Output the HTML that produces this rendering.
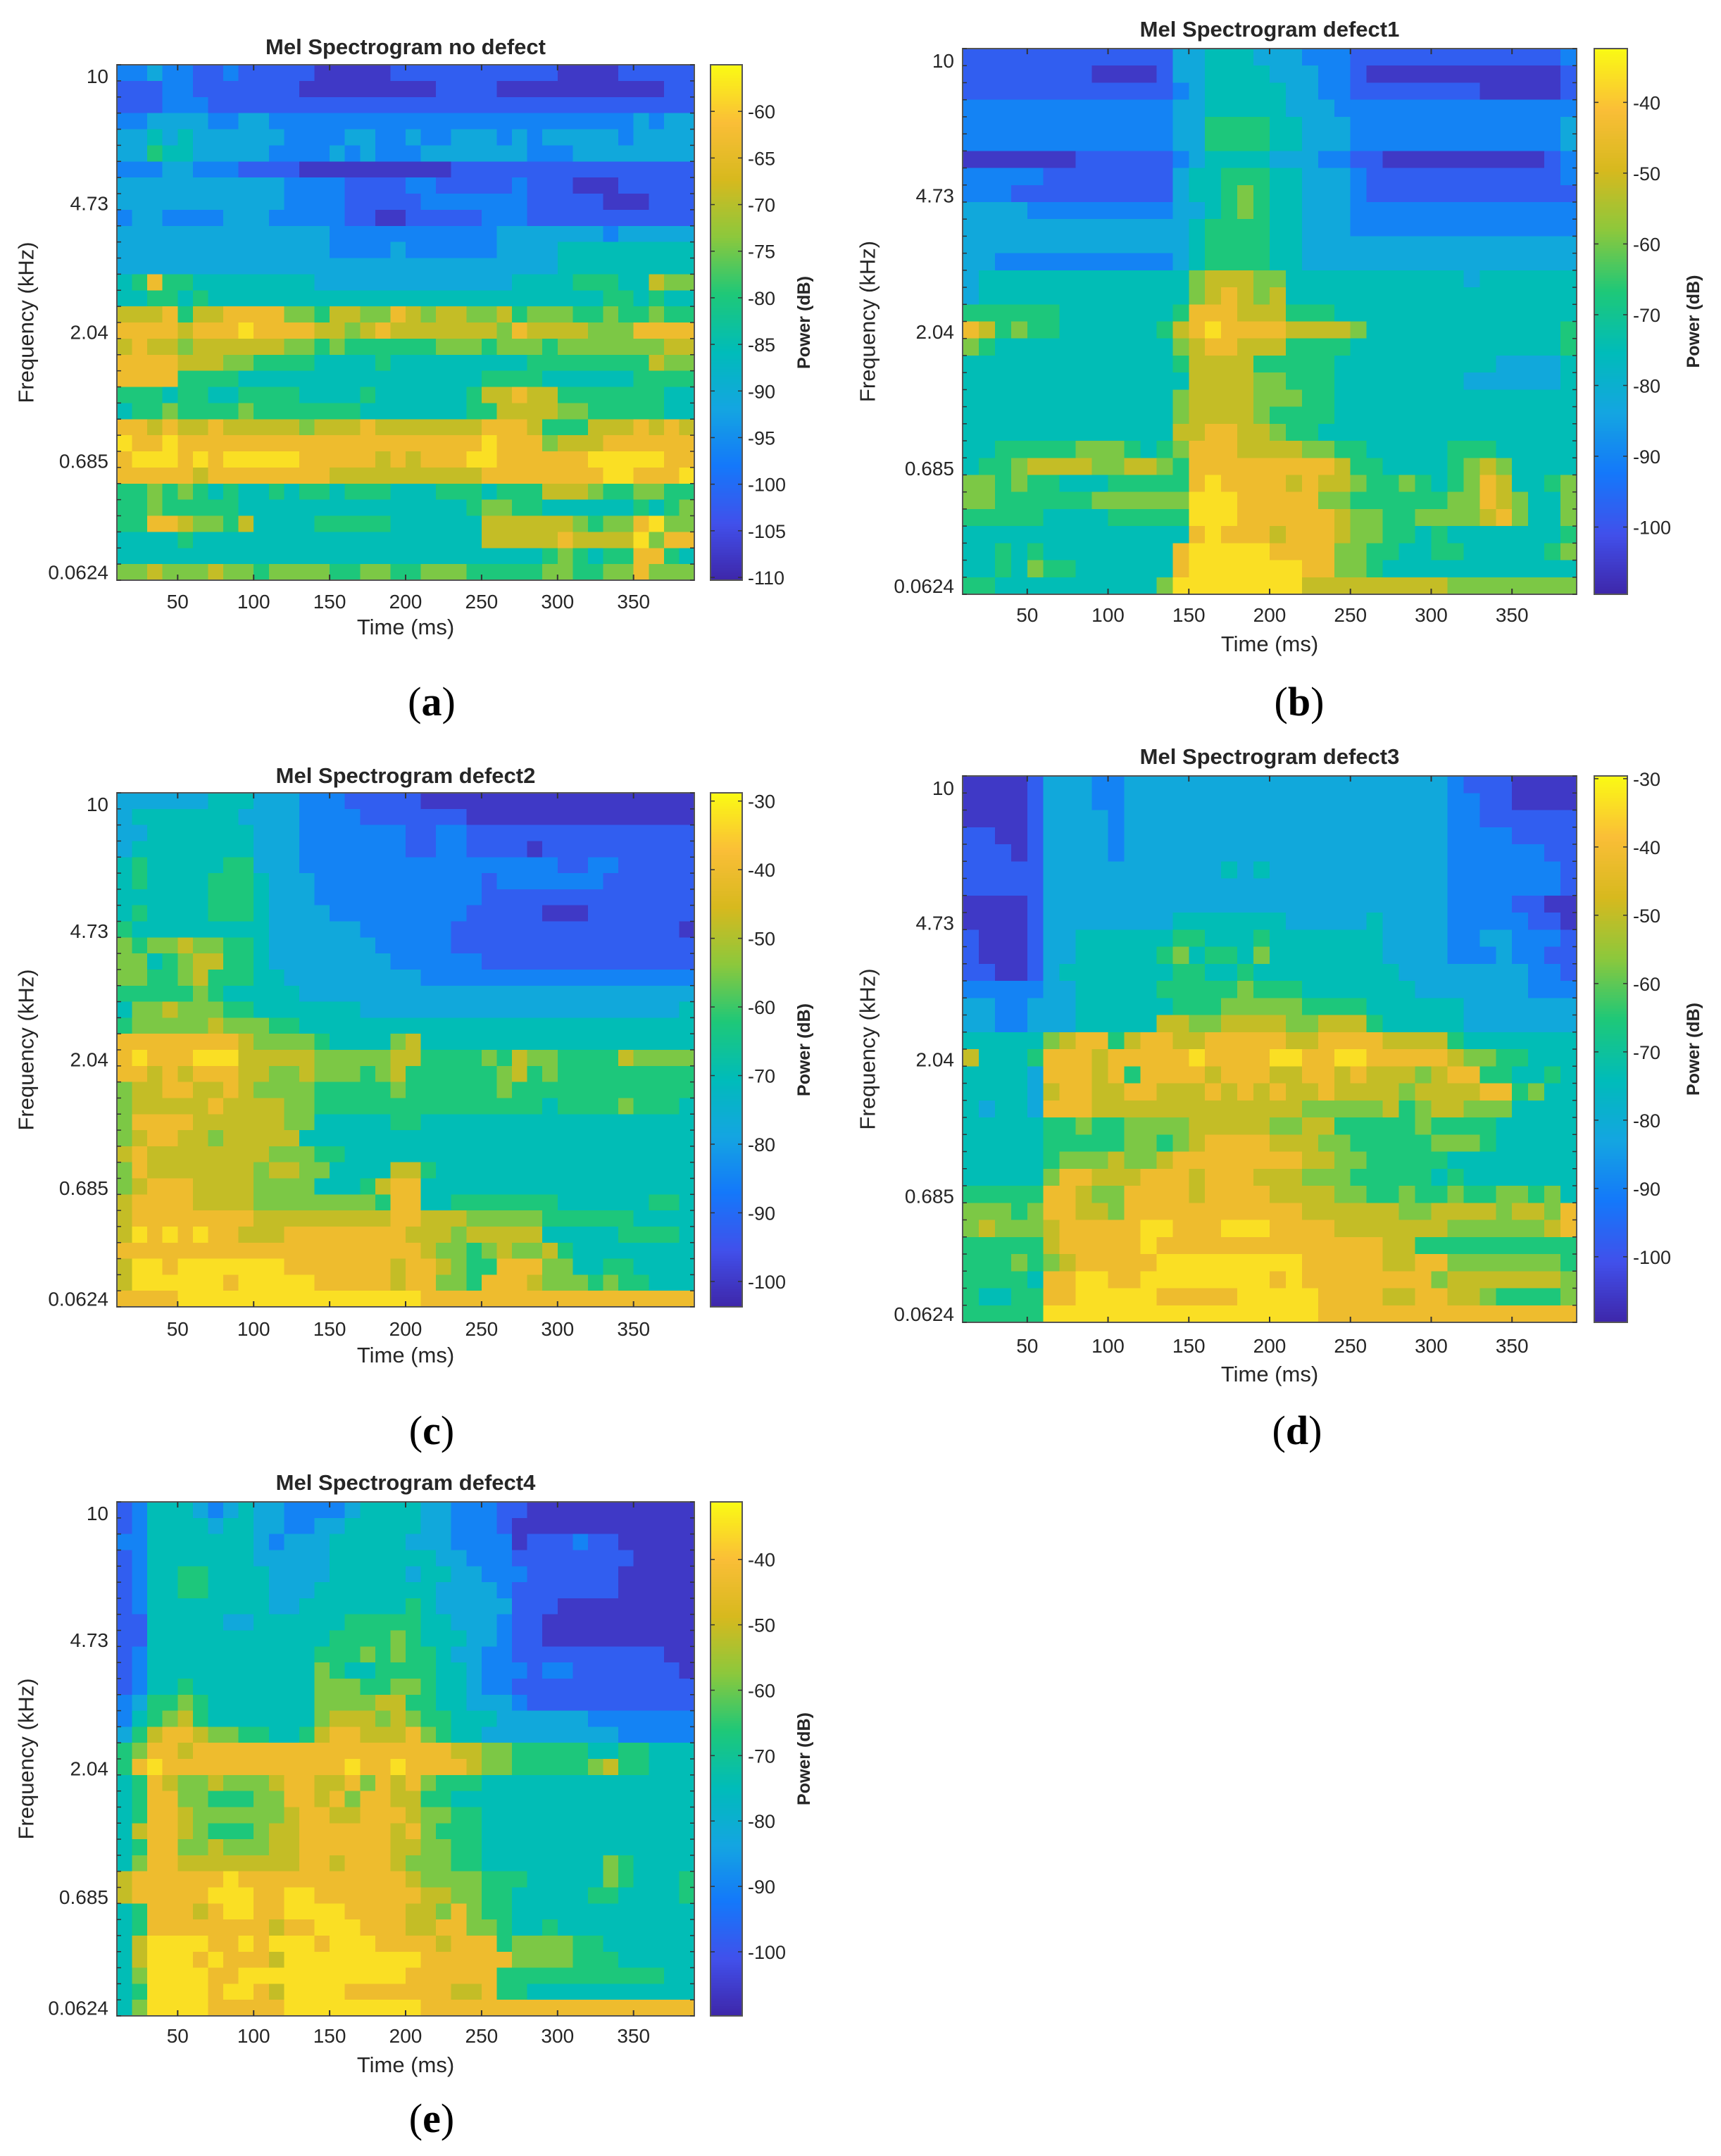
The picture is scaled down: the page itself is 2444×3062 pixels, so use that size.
<!DOCTYPE html>
<html><head><meta charset="utf-8"><style>
html,body{margin:0;padding:0;background:#fff}
svg{display:block}
text{font-family:"Liberation Sans Narrow","Liberation Sans",sans-serif;fill:#262626}
.pl{font-family:"Liberation Serif",serif;fill:#000}
</style></head><body>
<svg id="fig" xmlns="http://www.w3.org/2000/svg" width="2444" height="3062" viewBox="0 0 2444 3062"></svg>
<script>
// ---- shared data ----
const timeTicks = [50,100,150,200,250,300,350];
const freqTickLabels = ["10","4.73","2.04","0.685","0.0624"];
const freqTickRows = [0.7,8.6,16.6,24.6,31.5];
const timeMin = 10, timeMax = 390, nCols = 38, nRows = 32;

// ---- panel (a) no defect: level rows (top = highest frequency), 0..9 ----
const levelsA = [
"2232211211111000001111111111100001111121",
"1112211111110000000001111000000000001111",
"1112221111111111111111111111111111111111",
"2233332233222222222222222222222222323322",
"3343433333322223322322333232333332333333",
"3354433333222232322233333332223333333343",
"2223322211110000000000111111111111111112",
"3333333333322221111221111121110001111112",
"3333333333322221111122222221111100011111",
"2332222333222221100111112221111111111111",
"3333333333333322222222222333333323333322",
"3333333333333322223222222333344444444443",
"3333333333333333333333333333344444444433",
"4585544444444333333333333344445554476654",
"4455454444444444444444444444444455454444",
"7778577888866577668767766756665565565554",
"8888788898888776787777777687777666888887",
"7877677777766565555556665666566666667764",
"8888777665555444454444444445555555576654",
"8888555544444444444444445555444444555554",
"5554554455554444544444457787755555554444",
"4556555565555555444444455777766555554445",
"8878778777776777877777778887555777878756",
"9889888888888888888888889888677788888865",
"8999898999998888878788899888888999998888",
"8888878888888877777777778888888899888998",
"5565654544545545554445554555777655665565",
"5565555544444444444444456655444444545654",
"5588766574444555554444447777776566896664",
"4444544444444444444444447777787777968864",
"4444444444444444444444444444565455885444",
"6676667665666655665566655555665566866666"];
const cbarTicksA = [-60,-65,-70,-75,-80,-85,-90,-95,-100,-105,-110];

// ---- panel (b) defect1 ----
const levelsB = [
"11111111111113344433322211111111111112",
"11111111000013344443332210000000000001",
"11111111111112344444332211111111000001",
"22222222222223344444333222222222222222",
"22222222222223355554433322222222222223",
"22222222222223355554433322222222222223",
"00000001111112344443332211000000000012",
"22222111111113445554433321111111111112",
"22211111111113445654433321111111111111",
"33332222222223345654433322222222222222",
"33333333333333455554433322222222222222",
"33333333333333455554433333333333333333",
"33222222222223455554433333333333333333",
"34444444444444677766444444444443444444",
"34444444444444678767444444444444444444",
"55555544444445888777555444444444444444",
"87565544444457898888777764444444444445",
"65444444444446788777555544444444444445",
"44444444444445777755555444444444433334",
"44444444444444777766555444444443333334",
"44444444444446777766655444444444444444",
"44444444444446777765555444444444444444",
"44444444444447788776554444444444444444",
"44555556665456888777766554444455544444",
"45567777667765888888888755444456764444",
"66565544455555898888787765565456874456",
"66555555666666999888886655555566876446",
"55555444455555999888888766556666786446",
"44444444444444898887888766554544444445",
"44545444444448999998888665544554444456",
"44546554444448999999988665444444444444",
"55444444444469999999977777777766666666"];
const cbarTicksB = [-40,-50,-60,-70,-80,-90,-100];

// ---- panel (c) defect2 ----
const levelsC = [
"33333344433322211111000000000000000000",
"34444444333322221111111000000000000000",
"33444444433322222221122111111111111111",
"34444444433322222221122111101111111111",
"45444445533322222222222222222112211111",
"45444455543332222222222212222222111111",
"44444455543332222222222211111111111111",
"45444455543333222222222111110001111111",
"54444444443333332222221111111111111110",
"65667665543333333222221111111111111111",
"66456775543333333322222211111111111111",
"66556755544333333333222222222222222222",
"55555654444433333333333333333333333333",
"46676665544444443333333333333333333334",
"56666676665544444444444444444444444444",
"88888888766665444467444444444444444444",
"89888999777776666677555565766555576666",
"88787888776676665675555556756555555555",
"67788778766665555565555556555555555555",
"67777787777665555555555555554555565554",
"68888777777664444455444444444444444444",
"67887767777744444444444444444444444444",
"78777777776665544444444444444444444444",
"68777777767766444477544444444444444444",
"67888777766664445788444444444444444444",
"78888777766666666588445555555444444554",
"78888888877777777788777666665555554444",
"79898988777888888887776777774444455554",
"88888888888888888888766567667544444444",
"79989999999888888878876558886644554444",
"79999998999998888878866588876665655444",
"88889999999999999999888888888888888888"];
const cbarTicksC = [-30,-40,-50,-60,-70,-80,-90,-100];

// ---- panel (d) defect3 ----
const levelsD = [
"00001333223333333333333333333321110000",
"00001333223333333333333333333322110000",
"00001333323333333333333333333322111111",
"11001333323333333333333333333322221111",
"11101333323333333333333333333322222211",
"11111333333333334343333333333322222221",
"11111333333333333333333333333322222221",
"00001333333333333333333333333322221100",
"00001333333334444444333334333322222110",
"10001334444445544454444444333322332221",
"10001334444456455464444444333322232211",
"11001344444445544544444444433333333221",
"22222334444455555655544444443333333222",
"33223334444445556666655554444443333333",
"33223334444477667777667775444443333333",
"44444678857887788888778888777754444444",
"74445888788888988889988998888876655444",
"44443888785888878887788787776788554454",
"44443788778877787878778777767777885644",
"43443888777777777777766666756776664444",
"44444556556666777776677555556555544444",
"44444555556656788887776655555666544444",
"44444566676678888888877665555544444444",
"44444688777888788877766655555454444444",
"55555887668888788887777665565565566564",
"66656887768888888888877777766777767768",
"67666788888998889998888777777766666678",
"55555788888988888888888888775555555555",
"55565678888899999999988888778866666665",
"55554889988999999998988888888677777776",
"54455889999988888999998888778877655556",
"55555999999999999999998888888888888888"];
const cbarTicksD = [-30,-40,-50,-60,-70,-80,-90,-100];

// ---- panel (e) defect4 ----
const levelsE = [
"12444323433222234444332221100000000000",
"12444434433223344444332221000000000000",
"22444444432333444443332222011121100000",
"12444444433333444444433222111111110000",
"12445544443333444443443322211111100000",
"12445544443334444444433332111111100000",
"12444444443344444445433333111000000000",
"11444443344444455555443332110000000000",
"11444444444444555565444332110000000000",
"12444444444445556565543322111111111100",
"12444444444446544555544322212211111110",
"12445444444446665566544322111111111111",
"23556544444446666775544333211111111111",
"24567544444446777676554443333332222222",
"35788766554457887778654433333333322222",
"56887888888888888888887766555554455444",
"58988888888888898898888766555556755444",
"45876676667887786878655544444444444444",
"45886655566887868877554444444444444444",
"45887666666788778887665544444444444444",
"47887655567788888878655544444444444444",
"45886676667788888877665544444444444444",
"46887777777788788876665544444444654444",
"78888889888888888887666655544444654445",
"78888899988998888888776655444445544445",
"45888789988999988887768655444444444444",
"45888888887889998887788665445444444444",
"47999988989998999888878885666655444444",
"47999898887999999999888888666655544444",
"46999988999999999998888885555555555544",
"45999989987999988888887785544444444444",
"46999988888999999999888888888888888888"];
const cbarTicksE = [-40,-50,-60,-70,-80,-90,-100];

// ---- layout (positions only) ----
const panels = [
 {id:"a",title:"Mel Spectrogram no defect",levels:levelsA,ticks:cbarTicksA,cmin:-110.3,cmax:-55,
  px:166,py:92,pw:820,ph:732,cx:1009,cw:45,titleY:67,xlabY:854,timeY:890,ylabX:37,powX:1142,lab:[613,998]},
 {id:"b",title:"Mel Spectrogram defect1",levels:levelsB,ticks:cbarTicksB,cmin:-109.5,cmax:-32.4,
  px:1367,py:69,pw:872,ph:775,cx:2264,cw:47,titleY:42,xlabY:873,timeY:914,ylabX:1232,powX:2405,lab:[1845,998]},
 {id:"c",title:"Mel Spectrogram defect2",levels:levelsC,ticks:cbarTicksC,cmin:-103.7,cmax:-28.8,
  px:166,py:1126,pw:820,ph:730,cx:1009,cw:45,titleY:1102,xlabY:1887,timeY:1924,ylabX:37,powX:1142,lab:[613,2033]},
 {id:"d",title:"Mel Spectrogram defect3",levels:levelsD,ticks:cbarTicksD,cmin:-109.6,cmax:-29.6,
  px:1367,py:1102,pw:872,ph:776,cx:2264,cw:47,titleY:1075,xlabY:1911,timeY:1951,ylabX:1232,powX:2405,lab:[1842,2033]},
 {id:"e",title:"Mel Spectrogram defect4",levels:levelsE,ticks:cbarTicksE,cmin:-109.8,cmax:-31.2,
  px:166,py:2133,pw:820,ph:730,cx:1009,cw:45,titleY:2106,xlabY:2891,timeY:2932,ylabX:37,powX:1142,lab:[613,3010]}
];

const stops = [[62,38,168],[65,80,235],[20,120,250],[20,165,225],[0,188,185],[30,200,120],[140,200,60],[215,185,30],[250,190,55],[250,250,20]];
function parula(f){
  f=Math.max(0,Math.min(1,f))*(stops.length-1);
  const i=Math.min(stops.length-2,Math.floor(f)),t=f-i;
  const a=stops[i],b=stops[i+1];
  return "rgb("+a.map((v,k)=>Math.round(v+(b[k]-v)*t)).join(",")+")";
}
const NS="http://www.w3.org/2000/svg";
const svg=document.getElementById("fig");
function mk(tag,attrs,parent){const e=document.createElementNS(NS,tag);for(const k in attrs)e.setAttribute(k,attrs[k]);(parent||svg).appendChild(e);return e;}

panels.forEach(p=>{
  const g=mk("g",{});
  
  
  const xs=t=>p.px+(t-timeMin)/(timeMax-timeMin)*p.pw;
  const ys=r=>p.py+r/nRows*p.ph;
  const toDb=d=>p.cmin+(d+0.5)/10*(p.cmax-p.cmin);
  const frac=v=>(v-p.cmin)/(p.cmax-p.cmin);
  // heatmap
  const hm=mk("g",{"shape-rendering":"crispEdges"},g);
  
  
  p.levels.forEach((row,r)=>{
    for(let c=0;c<nCols;c++){
      const ch=row[Math.min(c,row.length-1)];
      const v=toDb(parseInt(ch,10));
      const t0=timeMin+c*10,t1=t0+10;
      const x0=xs(t0),x1=xs(t1);
      const cell=mk("rect",{x:x0.toFixed(2),y:ys(r).toFixed(2),width:(x1-x0+0.6).toFixed(2),height:(p.ph/nRows+0.6).toFixed(2),fill:parula(frac(v))},hm);
      
      
    }
  });
  // box
  const box=mk("rect",{x:p.px,y:p.py,width:p.pw,height:p.ph,fill:"none",stroke:"#555","stroke-width":2},g);
  
  
  // x ticks
  timeTicks.forEach(t=>{
    const x=xs(t);
    mk("line",{x1:x,y1:p.py+p.ph,x2:x,y2:p.py+p.ph-8,stroke:"#333","stroke-width":2},g);
    mk("line",{x1:x,y1:p.py,x2:x,y2:p.py+8,stroke:"#333","stroke-width":2},g);
    const tl=mk("text",{x:x,y:p.xlabY+10,"font-size":28,"text-anchor":"middle"},g);
    tl.textContent=t;
    
    
  });
  // y ticks (minor per row)
  for(let r=0;r<=nRows;r++){
    const y=ys(r);
    mk("line",{x1:p.px,y1:y,x2:p.px+6,y2:y,stroke:"#333","stroke-width":1.5},g);
    mk("line",{x1:p.px+p.pw,y1:y,x2:p.px+p.pw-6,y2:y,stroke:"#333","stroke-width":1.5},g);
  }
  freqTickLabels.forEach((lab,i)=>{
    const tl=mk("text",{x:p.px-12,y:ys(freqTickRows[i])+10,"font-size":28,"text-anchor":"end"},g);
    tl.textContent=lab;
    
    
  });
  // title
  const ti=mk("text",{x:p.px+p.pw/2,y:p.titleY+10,"font-size":31,"font-weight":"bold","text-anchor":"middle"},g);
  ti.textContent=p.title;
  
  
  const xt=mk("text",{x:p.px+p.pw/2,y:p.timeY+11,"font-size":31,"text-anchor":"middle"},g);
  xt.textContent="Time (ms)";
  
  
  const cy=p.py+p.ph/2;
  const yt=mk("text",{x:p.ylabX,y:cy,"font-size":31,"text-anchor":"middle",transform:"rotate(-90 "+p.ylabX+" "+cy+")","dominant-baseline":"central"},g);
  yt.textContent="Frequency (kHz)";
  
  
  // colorbar
  const cb=mk("g",{"shape-rendering":"crispEdges"},g);
  
  
  const N=200;
  for(let i=0;i<N;i++){
    mk("rect",{x:p.cx,y:(p.py+p.ph-(i+1)*p.ph/N).toFixed(2),width:p.cw,height:(p.ph/N+0.6).toFixed(2),fill:parula((i+0.5)/N)},cb);
  }
  mk("rect",{x:p.cx,y:p.py,width:p.cw,height:p.ph,fill:"none",stroke:"#555","stroke-width":2},g);
  const cys=v=>p.py+p.ph-(v-p.cmin)/(p.cmax-p.cmin)*p.ph;
  p.ticks.forEach(v=>{
    const y=cys(v);
    mk("line",{x1:p.cx,y1:y,x2:p.cx+6,y2:y,stroke:"#333","stroke-width":1.5},g);
    mk("line",{x1:p.cx+p.cw,y1:y,x2:p.cx+p.cw-6,y2:y,stroke:"#333","stroke-width":1.5},g);
    const tl=mk("text",{x:p.cx+p.cw+8,y:y+10,"font-size":27},g);
    tl.textContent=v;
    
    
  });
  const pw=mk("text",{x:p.powX,y:cy,"font-size":25,"font-weight":"bold","text-anchor":"middle",transform:"rotate(-90 "+p.powX+" "+cy+")","dominant-baseline":"central"},g);
  pw.textContent="Power (dB)";
  
  
  // panel label
  const pl=mk("text",{x:p.lab[0],y:p.lab[1]+18,"font-size":58,"text-anchor":"middle","class":"pl"},g);
  
  
  const t1=mk("tspan",{},pl);t1.textContent="(";
  const t2=mk("tspan",{"font-weight":"bold"},pl);t2.textContent=p.id;
  const t3=mk("tspan",{},pl);t3.textContent=")";
});
</script>
</body></html>
